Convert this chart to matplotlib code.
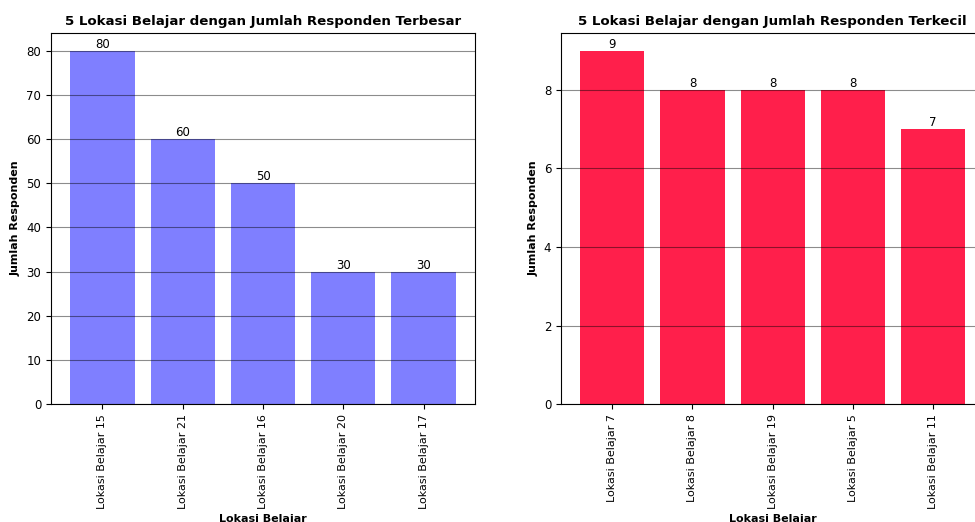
import matplotlib
matplotlib.use('Agg')
import matplotlib.pyplot as plt

lokasi_terbesar = ['Lokasi Belajar 15', 'Lokasi Belajar 21', 'Lokasi Belajar 16', 'Lokasi Belajar 20', 'Lokasi Belajar 17']
jumlah_terbesar = [80, 60, 50, 30, 30]
lokasi_terkecil = ['Lokasi Belajar 7', 'Lokasi Belajar 8', 'Lokasi Belajar 19', 'Lokasi Belajar 5', 'Lokasi Belajar 11']
jumlah_terkecil = [9, 8, 8, 8, 7]


def plot_bar(ax, labels, values, color, title):
    bars = ax.bar(labels, values, color=color, width=0.8)
    ax.bar_label(bars, labels=[str(v) for v in values], fontsize=8.5, padding=0)
    ax.set_title(title, fontsize=9.6, fontweight='bold')
    ax.set_xlabel('Lokasi Belajar', fontsize=8, fontweight='bold')
    ax.set_ylabel('Jumlah Responden', fontsize=8, fontweight='bold')
    ax.tick_params(axis='y', labelsize=8.5)
    ax.tick_params(axis='x', labelsize=8, rotation=90)
    ax.grid(axis='y', color='black', alpha=0.45, linewidth=0.8)
    ax.set_axisbelow(False)


fig = plt.figure(figsize=(9.75, 5.22), dpi=100)
ax1 = fig.add_axes([0.0523, 0.226, 0.4349, 0.7107])
ax2 = fig.add_axes([0.5754, 0.226, 0.434, 0.7107])

plot_bar(ax1, lokasi_terbesar, jumlah_terbesar, '#7f7fff', '5 Lokasi Belajar dengan Jumlah Responden Terbesar')
plot_bar(ax2, lokasi_terkecil, jumlah_terkecil, '#ff1f4b', '5 Lokasi Belajar dengan Jumlah Responden Terkecil')

fig.savefig('out.png', dpi=100)
